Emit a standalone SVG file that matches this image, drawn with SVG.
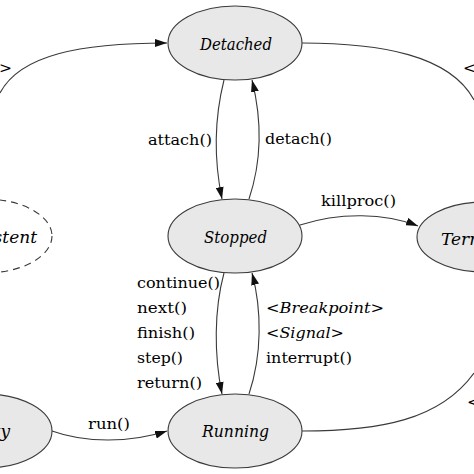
<svg xmlns="http://www.w3.org/2000/svg" width="474" height="474" viewBox="0 0 474 474">
<style>
.st{fill:#e8e8e8;stroke:#3a3a3a;stroke-width:1.1}
.ds{fill:none;stroke:#3a3a3a;stroke-width:1.1;stroke-dasharray:7 5}
.e{fill:none;stroke:#3a3a3a;stroke-width:1.1}
.n{font-family:'DejaVu Serif',serif;font-style:italic;font-size:17px;fill:#000}
.l{font-family:'DejaVu Serif',serif;font-size:15.5px;fill:#000}
.i{font-style:italic}
</style>
<defs>
<marker id="ah" viewBox="0 0 12 8" refX="12" refY="4" markerWidth="12" markerHeight="8" markerUnits="userSpaceOnUse" orient="auto">
<path d="M0,0 L12,4 L0,8 Z" fill="#111"/>
</marker>
</defs>
<rect width="474" height="474" fill="#fff"/>
<g id="connectors">
<path class="e" d="M0,93 C20,55 80,43 167,43" marker-end="url(#ah)"/>
<path class="e" d="M302,43 C380,43 450,55 474,100"/>
<path class="e" d="M224,80 C214,120 214,160 222,199" marker-end="url(#ah)"/>
<path class="e" d="M249,199 C262,160 262,120 252,80" marker-end="url(#ah)"/>
<path class="e" d="M300,225 C340,212 385,213 418,226" marker-end="url(#ah)"/>
<path class="e" d="M224,273 C214,310 214,355 222,394" marker-end="url(#ah)"/>
<path class="e" d="M249,394 C262,355 262,310 252,273" marker-end="url(#ah)"/>
<path class="e" d="M52,431 C85,443 130,443 167,431" marker-end="url(#ah)"/>
<path class="e" d="M302,431 C380,431 440,420 474,373"/>
<text class="l" x="12" y="73" text-anchor="end">&gt;</text>
<text class="l" x="463" y="73">&lt;</text>
<text class="l" x="467" y="407">&lt;</text>
<text class="l" x="148" y="145" textLength="64" lengthAdjust="spacingAndGlyphs">attach()</text>
<text class="l" x="265" y="144" textLength="67" lengthAdjust="spacingAndGlyphs">detach()</text>
<text class="l" x="321" y="206" textLength="75" lengthAdjust="spacingAndGlyphs">killproc()</text>
<text class="l" x="137" y="288" textLength="83" lengthAdjust="spacingAndGlyphs">continue()</text>
<text class="l" x="137" y="313" textLength="50" lengthAdjust="spacingAndGlyphs">next()</text>
<text class="l" x="137" y="338" textLength="58" lengthAdjust="spacingAndGlyphs">finish()</text>
<text class="l" x="137" y="363" textLength="46" lengthAdjust="spacingAndGlyphs">step()</text>
<text class="l" x="137" y="388" textLength="65" lengthAdjust="spacingAndGlyphs">return()</text>
<text class="l" x="266" y="313" textLength="118" lengthAdjust="spacingAndGlyphs">&lt;<tspan class="i">Breakpoint</tspan>&gt;</text>
<text class="l" x="266" y="338" textLength="78" lengthAdjust="spacingAndGlyphs">&lt;<tspan class="i">Signal</tspan>&gt;</text>
<text class="l" x="266" y="363" textLength="86" lengthAdjust="spacingAndGlyphs">interrupt()</text>
<text class="l" x="88" y="429" textLength="42" lengthAdjust="spacingAndGlyphs">run()</text>
</g>
<g id="detached">
<ellipse class="st" cx="235" cy="43" rx="67" ry="37"/>
<text class="n" x="200" y="50" textLength="72" lengthAdjust="spacingAndGlyphs">Detached</text>
</g>
<g id="stopped">
<ellipse class="st" cx="235" cy="236" rx="67" ry="37"/>
<text class="n" x="204" y="243" textLength="63" lengthAdjust="spacingAndGlyphs">Stopped</text>
</g>
<g id="running">
<ellipse class="st" cx="235" cy="431" rx="67" ry="37"/>
<text class="n" x="202" y="437" textLength="67" lengthAdjust="spacingAndGlyphs">Running</text>
</g>
<g id="terminated">
<ellipse class="st" cx="484" cy="237" rx="67" ry="35"/>
<text class="n" x="441" y="245">Term</text>
</g>
<g id="nonexistent">
<ellipse class="ds" cx="-15" cy="236" rx="67" ry="37"/>
<text class="n" x="37" y="243" text-anchor="end">stent</text>
</g>
<g id="left-state">
<ellipse class="st" cx="-15" cy="431" rx="67" ry="37"/>
<text class="n" x="10" y="437" text-anchor="end">ty</text>
</g>
</svg>
